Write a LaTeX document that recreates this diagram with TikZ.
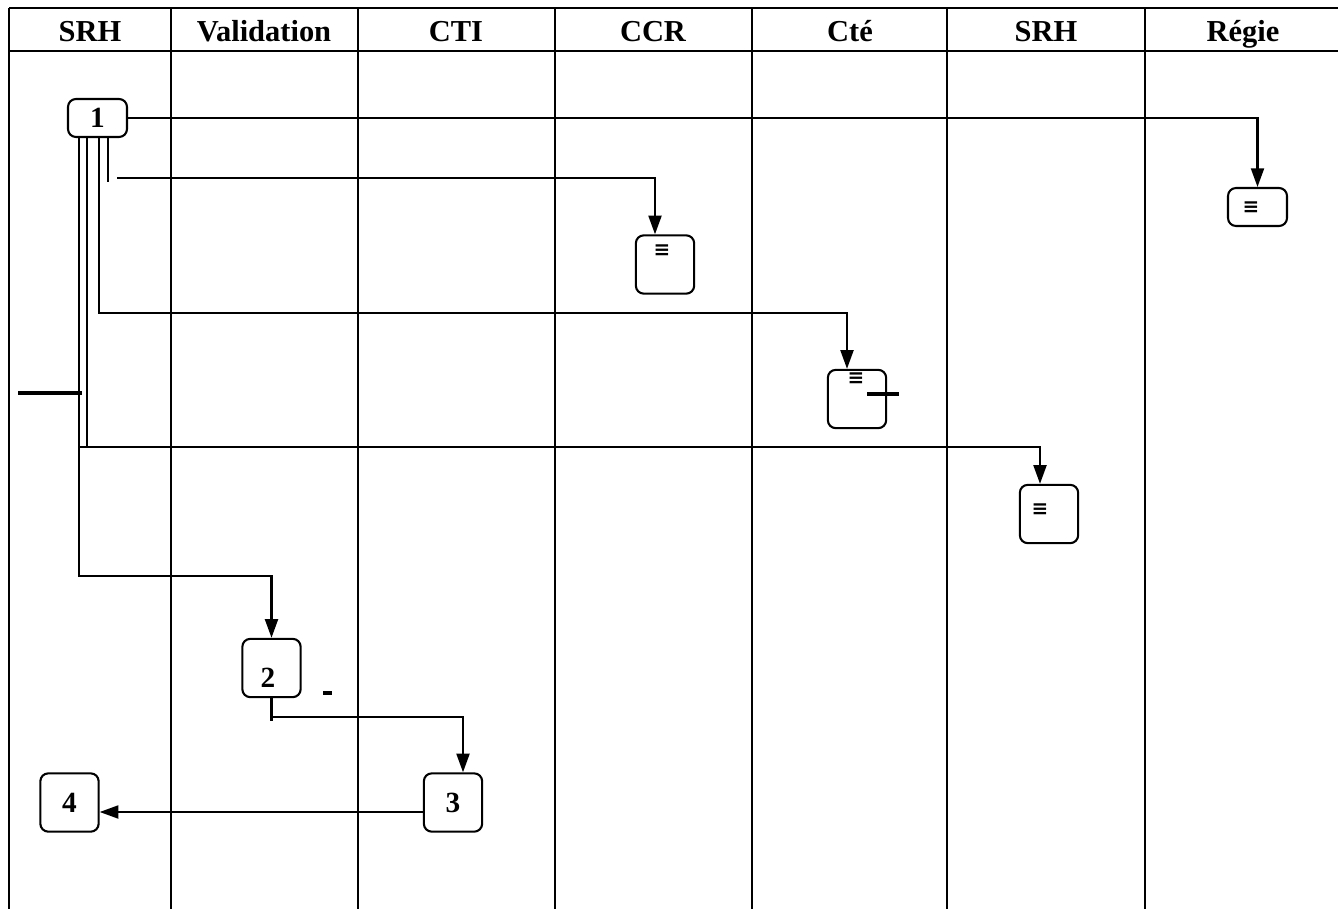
\documentclass[tikz,border=0pt]{standalone}
\usepackage{fontspec}
\setmainfont{Liberation Serif}
\newfontfamily\symfont{DejaVu Sans}
\usetikzlibrary{arrows.meta}

\tikzset{
  box/.style={draw, rounded corners=2.4mm, inner sep=0pt},
  sbox/.style={box, minimum width=17.7mm, minimum height=11.4mm},
  bbox/.style={box, minimum width=17.5mm, minimum height=17.5mm},
  flow/.style={-{Triangle[length=5.6mm,width=3.9mm]}},
  head/.style={font=\fontsize{26}{30}\selectfont\bfseries, anchor=base},
  num/.style={font=\fontsize{25}{30}\selectfont\bfseries},
  doc/.style={font=\symfont\bfseries\fontsize{17}{18}\selectfont, inner sep=0pt},
}

\begin{document}
\begin{tikzpicture}[x=0.3mm, y=-0.3mm, line width=0.62mm]
\useasboundingbox (0,0) rectangle (1338,909);
% table frame
\draw (9,8) -- (1338,8);
\draw (9,51) -- (1338,51);
\foreach \x in {9,171,358,555,752,947,1145}
\draw (\x,8) -- (\x,909);
\foreach \x/\t in {90/SRH,264/Validation,456/CTI,653/CCR,850/Cté,1046/SRH,1243/Régie}
\node[head] at (\x,42) {\t};

% boxes
\node[sbox,num] (b1) at (97.5,118) {1};
\node[sbox] (regie) at (1257.5,207) {};
\node[bbox] (ccr) at (665,264.5) {};
\node[bbox] (cte) at (857,399) {};
\node[bbox] (srh) at (1049,514) {};
\node[bbox] (b2) at (271.5,668) {};
\node[num] at (268,678) {2};
\node[bbox,num] (b3) at (453,802.5) {3};
\node[bbox,num] (b4) at (69.5,802.5) {4};

\node[doc] at (1251,208) {≡};
\node[doc] at (662,251) {≡};
\node[doc] at (856,379) {≡};
\node[doc] at (1040,510) {≡};

% links
\draw[flow] (b1.east) -| (regie.north);
\draw (108,137) -- (108,182);
\draw[flow] (117,178) -| ([xshift=-3mm]ccr.north);
\draw[flow] (99,137) -- (99,313) -| ([xshift=-3mm]cte.north);
\draw (87,137) -- (87,447);
\draw[flow] (79,447) -| ([xshift=-2.7mm]srh.north);
\draw[flow] (79,137) -- (79,576) -| (b2.north);
\draw (b2.south) -- ++(0,23);
\draw[flow] ([yshift=-5.7mm]b2.south) -| ([xshift=3mm]b3.north);
\draw[flow] ([yshift=-2.85mm]b3.west) -- ([yshift=-2.85mm]b4.east);

% stray marks
\draw[line width=1.3mm] (18,393) -- (82,393);
\draw[line width=1.3mm] (867,394) -- (899,394);
\draw[line width=1mm] (323,693) -- (332,693);
\end{tikzpicture}
\end{document}
